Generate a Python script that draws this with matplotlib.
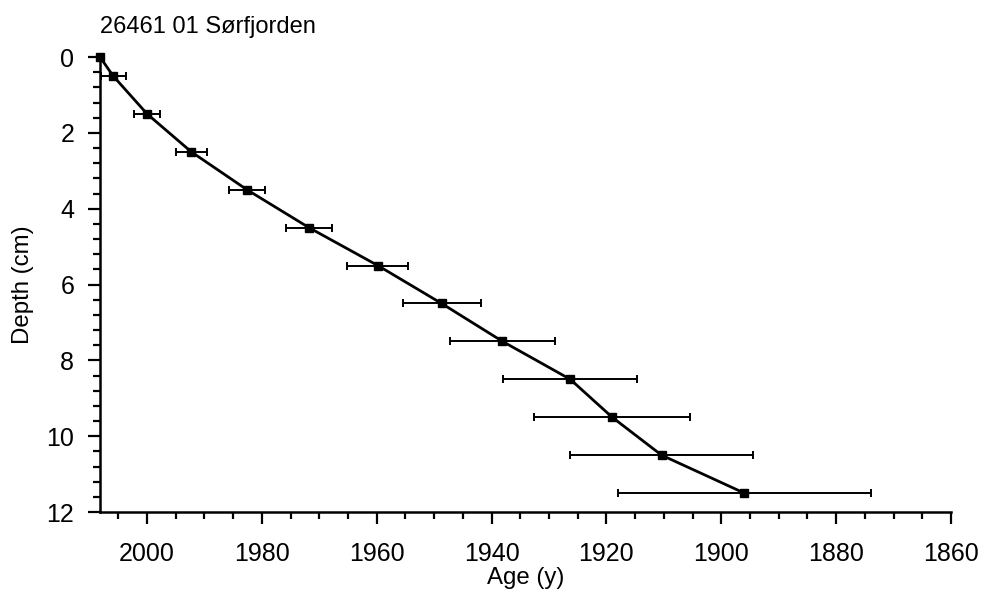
import matplotlib.pyplot as plt
from matplotlib.ticker import MultipleLocator

plt.rcParams['font.family'] = ['Liberation Sans', 'DejaVu Sans']

# age model for the core: depth midpoints (cm), age (AD) and age error (y)
depth = [0, 0.5, 1.5, 2.5, 3.5, 4.5, 5.5, 6.5, 7.5, 8.5, 9.5, 10.5, 11.5]
age = [2008.2, 2005.9, 2000.0, 1992.3, 1982.6, 1971.8, 1959.8, 1948.7,
       1938.1, 1926.3, 1919.0, 1910.4, 1896.0]
age_err = [0, 2.2, 2.2, 2.7, 3.2, 4.0, 5.3, 6.8, 9.2, 11.7, 13.6, 16.0, 22.0]

fig = plt.figure(figsize=(9.82, 5.92), dpi=100)
ax = fig.add_axes([0.1018, 0.1351, 0.9684 - 0.1018, 0.9037 - 0.1351])

ax.plot(age, depth, color='black', lw=2.0, zorder=3)
ax.errorbar(age[1:], depth[1:], xerr=age_err[1:], fmt='s', ms=5.5,
            color='black', ecolor='black', elinewidth=1.4, capsize=3.2,
            capthick=1.4, zorder=4)
ax.plot(age[0], depth[0], 's', ms=5.5, color='black', clip_on=False, zorder=5)

ax.set_xlim(2008.2, 1860)
ax.set_ylim(12, 0)

ax.xaxis.set_major_locator(MultipleLocator(20))
ax.xaxis.set_minor_locator(MultipleLocator(5))
ax.yaxis.set_major_locator(MultipleLocator(2))
ax.yaxis.set_minor_locator(MultipleLocator(0.4))

for side in ['top', 'right']:
    ax.spines[side].set_visible(False)
for side in ['left', 'bottom']:
    ax.spines[side].set_linewidth(1.8)

ax.tick_params(which='major', length=8.6, width=1.6, labelsize=18, pad=10)
ax.tick_params(which='minor', length=5, width=1.6)
ax.tick_params(axis='x', pad=13)

ax.set_xlabel('Age (y)', fontsize=17.3, labelpad=1)
ax.set_ylabel('Depth (cm)', fontsize=17.3, labelpad=9)
ax.set_title('26461 01 Sørfjorden', fontsize=17, loc='left', x=0.0, pad=17)

fig.savefig('out.png', dpi=100)
